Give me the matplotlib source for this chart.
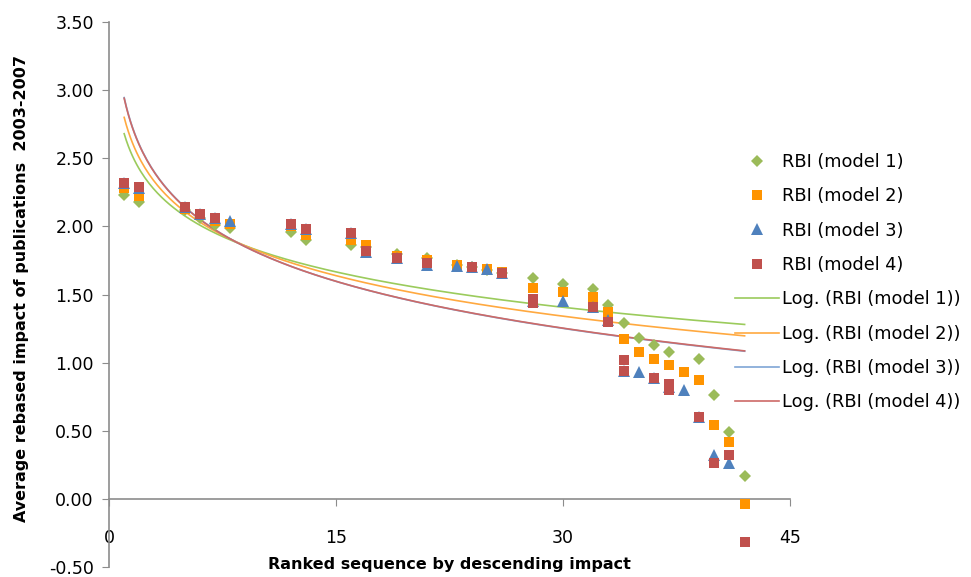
import numpy as np
import matplotlib.pyplot as plt

# rank position and RBI value for each model
x1 = [1, 2, 5, 6, 7, 8, 12, 13, 16, 17, 19, 21, 23, 24, 25, 26, 28, 30, 32, 33,
      34, 35, 36, 37, 39, 40, 41, 42]
y1 = [2.23, 2.18, 2.12, 2.06, 2.01, 1.99, 1.96, 1.90, 1.86, 1.85, 1.80, 1.77, 1.72, 1.70,
      1.68, 1.66, 1.62, 1.58, 1.54, 1.42, 1.29, 1.18, 1.13, 1.08, 1.03, 0.76, 0.49, 0.17]

x2 = [1, 2, 5, 6, 7, 8, 12, 13, 16, 17, 19, 21, 23, 24, 25, 26, 28, 30, 32, 33,
      34, 35, 36, 37, 38, 39, 40, 41, 42]
y2 = [2.28, 2.22, 2.13, 2.08, 2.04, 2.02, 2.00, 1.94, 1.90, 1.86, 1.78, 1.75, 1.72, 1.70,
      1.69, 1.665, 1.55, 1.52, 1.48, 1.37, 1.17, 1.08, 1.03, 0.98, 0.93, 0.87, 0.54, 0.42, -0.04]

x3 = [1, 2, 5, 6, 7, 8, 12, 13, 16, 17, 19, 21, 23, 24, 25, 26, 28, 30, 32, 33,
      34, 35, 36, 37, 38, 39, 40, 41]
y3 = [2.32, 2.28, 2.14, 2.09, 2.06, 2.04, 2.02, 1.98, 1.95, 1.81, 1.77, 1.72, 1.71, 1.70,
      1.685, 1.655, 1.45, 1.45, 1.41, 1.31, 0.94, 0.93, 0.89, 0.82, 0.80, 0.60, 0.32, 0.26]

x4 = [1, 2, 5, 6, 7, 12, 13, 16, 17, 19, 21, 24, 26, 28, 28, 32, 33, 34, 34,
      36, 37, 37, 39, 40, 41, 42]
y4 = [2.32, 2.29, 2.14, 2.09, 2.06, 2.02, 1.98, 1.95, 1.82, 1.77, 1.73, 1.70, 1.66, 1.47,
      1.44, 1.41, 1.30, 1.02, 0.94, 0.89, 0.84, 0.80, 0.60, 0.26, 0.32, -0.32]

# logarithmic trend lines y = a + b*ln(x), drawn over ranks 1..42
trend_a = [2.68, 2.80, 2.945, 2.94]
trend_b = [-0.3745, -0.429, -0.498, -0.496]
trend_range = (1, 42)

labels = ['RBI (model 1)', 'RBI (model 2)', 'RBI (model 3)', 'RBI (model 4)']
colors = ['#9BBB59', '#FF9400', '#4F81BD', '#C0504D']
trend_colors = ['#9BCB5C', '#FFA940', '#7FA5D6', '#CD6A67']
markers = ['D', 's', '^', 's']
sizes = [6, 7.5, 8, 7.5]

fig = plt.figure(figsize=(9.71, 5.77), dpi=100)
ax = fig.add_axes([0.1123, 0.0173, 0.7013, 0.9446])

series = [(x1, y1), (x2, y2), (x3, y3), (x4, y4)]
for (xs, ys), lab, c, m, s in zip(series, labels, colors, markers, sizes):
    ax.plot(xs, ys, linestyle='none', marker=m, markersize=s, color=c,
            markeredgewidth=0, label=lab, zorder=3)

xt = np.linspace(trend_range[0], trend_range[1], 300)
for a, b, lab, c in zip(trend_a, trend_b, labels, trend_colors):
    ax.plot(xt, a + b * np.log(xt), color=c, linewidth=1.2,
            label='Log. (' + lab + ')', zorder=2)

ax.set_xlim(0, 45)
ax.set_ylim(-0.5, 3.5)
ax.set_xticks([0, 15, 30, 45])
yt = np.arange(-0.5, 3.51, 0.5)
ax.set_yticks(yt)
ax.set_yticklabels(['%.2f' % v for v in yt])

ax.spines['top'].set_visible(False)
ax.spines['right'].set_visible(False)
ax.spines['bottom'].set_position(('data', 0))
for sp in ['left', 'bottom']:
    ax.spines[sp].set_color('#8C8C8C')
    ax.spines[sp].set_linewidth(1.2)

ax.tick_params(axis='x', direction='out', length=5, color='#8C8C8C', pad=17,
               labelsize=12.5)
ax.tick_params(axis='y', direction='out', length=5, color='#8C8C8C', pad=6,
               labelsize=12.5)

fig.text(449 / 971, 1 - 565 / 577, 'Ranked sequence by descending impact',
         ha='center', va='center', fontsize=11.5, fontweight='bold')
fig.text(22 / 971, 1 - 288 / 577, 'Average rebased impact of publications  2003-2007',
         ha='center', va='center', rotation=90, fontsize=11.5, fontweight='bold')

ax.legend(loc='upper left', bbox_to_anchor=(735 / 971, 1 - 153 / 577),
          bbox_transform=fig.transFigure, frameon=False, fontsize=12.8,
          handlelength=2.5, handletextpad=0.15, labelspacing=0.92,
          borderaxespad=0, borderpad=0)

fig.savefig('out.png', dpi=100)
